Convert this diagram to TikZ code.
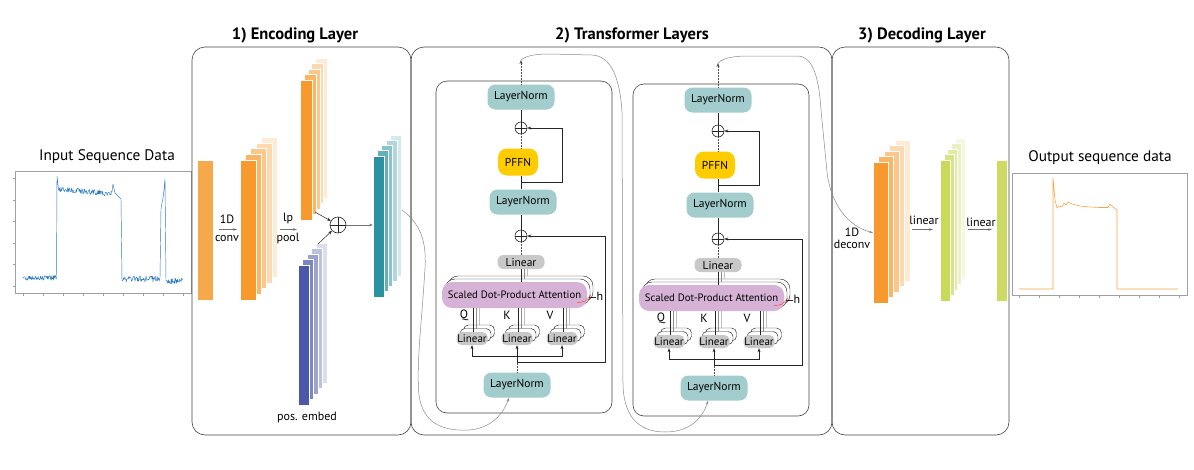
\documentclass[tikz,border=0pt]{standalone}
\usepackage{fontspec}
\setmainfont{PT Sans}
\usetikzlibrary{arrows.meta}
\definecolor{orangeA}{HTML}{F6A94A}
\definecolor{orangeB}{HTML}{F7992C}
\definecolor{blueE}{HTML}{4B57A8}
\definecolor{tealE}{HTML}{2A92A1}
\definecolor{greenE}{HTML}{C9DA5B}
\definecolor{lnC}{HTML}{A2CDCC}
\definecolor{pffnC}{HTML}{FFCC00}
\definecolor{sdpaC}{HTML}{D6B3D6}
\definecolor{linC}{HTML}{C8C8C8}
\definecolor{sigBlue}{HTML}{2C7BBF}
\definecolor{sigOrange}{HTML}{F6A445}
\definecolor{frameC}{HTML}{A0A0A0}
\definecolor{boxC}{HTML}{444444}
\definecolor{curveC}{HTML}{8A8A8A}

\newcommand{\fs}[1]{\fontsize{#1}{#1}\selectfont}

% name, x-left, y-top, width, height, colour, layers, dx, dy
\newcommand{\barstack}[9]{%
  \foreach \i in {#7,...,1}{%
    \pgfmathtruncatemacro\pct{90-\i*70/#7}%
    \fill[#6!\pct!white] (#2+\i*#8,#3-\i*#9) rectangle ++(#4,#5);
    \draw[white, line width=0.6pt] (#2+\i*#8,#3-\i*#9) rectangle ++(#4,#5);
  }%
  \node[barbox, fill=#6, minimum width=#4pt, minimum height=#5pt, anchor=north west] (#1) at (#2,#3) {};
}

% transformer block: prefix, dx, dy
\newcommand{\tblock}[3]{%
\begin{scope}[shift={(#2,#3)}]
  \draw[innerbox] (436,81) rectangle (612,413);
  \node[ln] (#1lnT) at (521,97) {LayerNorm};
  \node[op] (#1opA) at (521,128) {};
  \node[pffn] (#1pffn) at (518,162) {PFFN};
  \node[ln] (#1lnM) at (523,202) {LayerNorm};
  \node[op] (#1opB) at (521,236) {};
  \node[lin] (#1lin) at (521,262) {Linear};
  \draw[backbox, rounded corners=10pt] (448,276) rectangle (593,302);
  \draw[backbox, rounded corners=10pt] (445,279) rectangle (590,305);
  \node[sdpa] (#1sdpa) at (514.5,295) {Scaled Dot-Product Attention};
  \foreach \cx in {472,517,562}{%
    \draw[backbox, rounded corners=5pt] (\cx-15.5+7,332-7) rectangle (\cx+15.5+7,345-7);
    \draw[backbox, rounded corners=5pt] (\cx-15.5+3.5,332-3.5) rectangle (\cx+15.5+3.5,345-3.5);
  }
  \node[linq] (#1lq) at (472,338.5) {Linear};
  \node[linq] (#1lk) at (517,338.5) {Linear};
  \node[linq] (#1lv) at (562,338.5) {Linear};
  \node[lbl] (#1Q) at (464,315) {Q};
  \node[lbl] (#1K) at (507,315) {K};
  \node[lbl] (#1V) at (550,315) {V};
  \node[ln] (#1lnB) at (517,385) {LayerNorm};
  \coordinate (#1out) at (521,60);
  \coordinate (#1j1) at (517,362);
  \coordinate (#1j2) at (517,356);
  \coordinate (#1j3) at (521,182);
  % triple lines Linear -> attention
  \foreach \cx/\nm in {472/#1lq,517/#1lk,562/#1lv}{%
    \draw[conn] (\nm.north -| \cx+1,0) -- (\cx+1,307.5);
    \draw[conn, black!45] (\cx+4,328.5) -- (\cx+4,307.5);
    \draw[conn, black!25] (\cx+7,325) -- (\cx+7,307.5);
  }
  % attention -> Linear
  \draw[conn] (#1sdpa.north -| #1lin) -- (#1lin.south);
  \draw[conn, black!45] (524,279) -- (524,269);
  \draw[conn, black!25] (527,276) -- (527,269);
  % head marker
  \draw[red!75, line width=0.5pt] (577,302.5) .. controls (585,302) .. (591,295);
  \draw[conn] (589,297) -- (596,297);
  \node[lbl, anchor=west] (#1h) at (596.5,296) {h};
  % main flow
  \draw[dotl] (#1lnB.north) -- (#1j1);
  \draw[arr] (#1j1) -- (#1lk.south);
  \draw[arr] (#1j2) -| (#1lq.south);
  \draw[arr] (#1j2) -| (#1lv.south);
  \draw[arr] (#1j1) -- (605,362) |- (#1opB);
  \draw[dotl] (#1lin.north) -- (#1opB.south);
  \draw[conn] (#1opB.north) -- (#1opB.north |- #1lnM.south);
  \draw[conn] (#1opB.north |- #1lnM.north) -- (#1opB.north |- #1pffn.south);
  \draw[dotl] (#1opA.south |- #1pffn.north) -- (#1opA.south);
  \draw[arr] (#1j3) -- (562,182) |- (#1opA);
  \draw[conn] (#1opA.north) -- (#1lnT.south);
  \draw[dotl, -{Stealth[length=4pt,width=3pt]}] (#1lnT.north) -- (#1out);
\end{scope}}

\begin{document}
\begin{tikzpicture}[x=1pt,y=-1pt,
  outerbox/.style={draw=boxC, line width=0.6pt, rounded corners=13pt},
  innerbox/.style={draw=boxC, line width=0.6pt, rounded corners=11pt},
  backbox/.style={draw=black!85, fill=white, line width=0.45pt},
  barbox/.style={rectangle, inner sep=0pt, draw=white, line width=0.6pt},
  ln/.style={rectangle, rounded corners=8pt, fill=lnC, minimum width=67pt, minimum height=25pt, inner sep=0pt, font=\fs{11.5}},
  pffn/.style={rectangle, rounded corners=9pt, fill=pffnC, minimum width=40pt, minimum height=27pt, inner sep=0pt, font=\fs{11.5}},
  lin/.style={rectangle, rounded corners=6pt, fill=linC, minimum width=47pt, minimum height=14pt, inner sep=0pt, font=\fs{11.5}},
  linq/.style={rectangle, rounded corners=5pt, fill=linC, minimum width=31pt, minimum height=13pt, inner sep=0pt, font=\fs{11}},
  sdpa/.style={rectangle, rounded corners=10pt, fill=sdpaC, minimum width=145pt, minimum height=26pt, inner sep=0pt, font=\fs{10.7}},
  op/.style={circle, draw=black!85, line width=0.6pt, minimum size=12pt, inner sep=0pt,
     path picture={\draw[line width=0.6pt] (path picture bounding box.north) -- (path picture bounding box.south)
       (path picture bounding box.west) -- (path picture bounding box.east);}},
  lbl/.style={inner sep=0pt, font=\fs{12}},
  title/.style={inner sep=0pt, font=\fs{16.5}\bfseries},
  ptitle/.style={inner sep=0pt, font=\fs{15.3}},
  conn/.style={draw=black!85, line width=0.5pt},
  dotl/.style={draw=black!70, line width=0.5pt, densely dotted},
  arr/.style={conn, -{Stealth[length=4pt,width=3pt]}},
  garr/.style={draw=black!55, line width=0.5pt, -{Stealth[length=4pt,width=2.5pt]}},
  curve/.style={draw=curveC, line width=0.5pt},
  frame/.style={draw=frameC, line width=0.5pt}
]
\useasboundingbox (0,0) rectangle (1194,469);

% ---------------- input plot
\node[ptitle] (intitle) at (107,157) {Input Sequence Data};
\draw[frame] (15,171) rectangle (191,293);
\foreach \x in {23,43,...,183} \draw[frame] (\x,293) -- (\x,295.5);
\foreach \y in {178,200,221,243,264,286} \draw[frame] (15,\y) -- (12.5,\y);
\pgfmathsetseed{11}
\draw[sigBlue, line width=0.45pt, line join=round]
  plot[domain=23:56.5, samples=70] (\x,{278+2.6*rand})
  -- (57,176)
  -- plot[domain=58.5:112, samples=110] (\x,{189+0.09*(\x-58)+2.8*rand})
  -- (113,184) -- (115,193) -- (117,195) -- (119,197) -- (121,199)
  -- (122,281)
  -- plot[domain=123:160, samples=80] (\x,{279+3*rand})
  -- (161,209) -- (162,203) -- (163,198) -- (164,190) -- (165,179)
  -- (166,281)
  -- plot[domain=167:183, samples=35] (\x,{281+3*rand});

% ---------------- outer boxes
\draw[outerbox] (192,47) rectangle (411,435);
\draw[outerbox] (411,47) rectangle (832,435);
\draw[outerbox] (832,47) rectangle (1009,435);
\node[title] (t1) at (295,35) {1) Encoding Layer};
\node[title] (t2) at (632,35) {2) Transformer Layers};
\node[title] (t3) at (922,35) {3) Decoding Layer};

% ---------------- encoding layer
\node[barbox, fill=orangeA, minimum width=16pt, minimum height=140pt, anchor=north west] (e1) at (197,160) {};
\barstack{e2}{240}{160}{16}{140}{orangeB}{4}{5.3}{5.7}
\barstack{e3}{300}{80}{12}{140}{orangeB}{4}{3.9}{5.5}
\barstack{pe}{298}{265}{11}{140}{blueE}{4}{4.5}{5.5}
\barstack{e4}{373}{156}{11}{141}{tealE}{4}{4.3}{5.3}
\node[lbl] (c1a) at (227,219) {1D};
\node[lbl] (c1b) at (227,238) {conv};
\coordinate (a1s) at (219,229.5);
\coordinate (a1e) at (237,229.5);
\draw[garr] (a1s) -- (a1e);
\node[lbl] (p1a) at (288,218) {lp};
\node[lbl] (p1b) at (288,238) {pool};
\coordinate (a2s) at (280,229.5);
\coordinate (a2e) at (297,229.5);
\draw[garr] (a2s) -- (a2e);
\node[op, minimum size=16pt] (eop) at (338,225) {};
\coordinate (e3o) at (315,212);
\coordinate (peo) at (318,244);
\draw[arr] (e3o) -- (eop);
\draw[arr] (peo) -- (eop);
\draw[garr] (eop) -- (e4.west |- eop);
\node[lbl] (pet) at (307,417) {pos. embed};

% ---------------- transformer blocks
\tblock{b1}{0}{0}
\tblock{b2}{197}{3}

% ---------------- decoding layer
\barstack{d1}{873}{162}{15}{141}{orangeB}{4}{5.5}{5.5}
\barstack{d2}{940}{160}{10}{141}{greenE}{4}{3.8}{5.5}
\node[barbox, fill=greenE!95!white, minimum width=11pt, minimum height=141pt, anchor=north west] (d3) at (996,160) {};
\node[lbl] (dl1) at (852,232) {1D};
\node[lbl] (dl2) at (852,244.5) {deconv};
\node[lbl] (dl3) at (924,220) {linear};
\node[lbl] (dl4) at (981,222) {linear};
\coordinate (a3s) at (912,229.5);
\coordinate (a3e) at (933,229.5);
\draw[garr] (a3s) -- (a3e);
\coordinate (a4s) at (968,229.5);
\coordinate (a4e) at (992,229.5);
\draw[garr] (a4s) -- (a4e);

% ---------------- connecting curves
\coordinate (encout) at (402,210);
\draw[curve, -{Stealth[length=4pt,width=2.5pt]}] (encout)
  .. controls (418,222) and (427,238) .. (425,268)
  .. controls (422,320) and (416,365) .. (419,395)
  .. controls (423,425) and (445,431) .. (468,430)
  .. controls (488,429) and (502,417) .. ([xshift=-8pt]b1lnB.south);
\draw[curve, -{Stealth[length=4pt,width=2.5pt]}] (b1out)
  .. controls (527,55) and (538,54) .. (550,54)
  -- (592,55)
  .. controls (612,56) and (620,80) .. (622,112)
  -- (623,385)
  .. controls (624,420) and (642,432) .. (665,432)
  .. controls (688,432) and (702,420) .. ([xshift=-6pt]b2lnB.south);
\draw[curve, -{Stealth[length=4pt,width=2.5pt]}] (b2out)
  .. controls (724,57) and (737,56) .. (750,56)
  -- (798,56)
  .. controls (814,57) and (819,80) .. (821,110)
  -- (827,172)
  .. controls (831,205) and (848,226) .. (d1.west);

% ---------------- output plot
\node[ptitle] (outtitle) at (1100,158) {Output sequence data};
\draw[frame] (1012,173) rectangle (1187,295);
\foreach \x in {1019,1039,...,1179} \draw[frame] (\x,295) -- (\x,297.5);
\draw[sigOrange, line width=0.6pt, line join=round]
  (1019,289) -- (1053,289) -- (1053,178) -- (1055,200) -- (1057,208) -- (1059,206)
  -- (1062,207) -- (1064,203) -- (1066,205) -- (1068,202) -- (1072,204) -- (1076,205)
  -- (1080,206) -- (1090,207) -- (1100,207.5) -- (1108,207.5) -- (1110,204) -- (1113,207)
  -- (1117,210) -- (1117,289) -- (1178,289);
\end{tikzpicture}
\end{document}
